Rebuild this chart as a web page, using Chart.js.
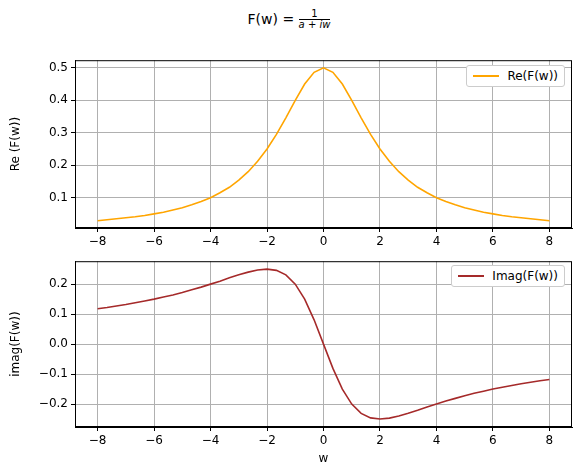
<!DOCTYPE html>
<html><head><meta charset="utf-8">
<script src="https://cdn.jsdelivr.net/npm/chart.js@4"></script>
<style>
body{margin:0;width:578px;height:470px;position:relative;background:#fff;font-family:"DejaVu Sans",sans-serif;}
canvas{position:absolute;left:0;}
#title{position:absolute;top:9px;left:0;width:578px;text-align:center;font-size:14px;}
.frac{display:inline-block;vertical-align:middle;text-align:center;font-size:10px;font-style:italic;line-height:10px;}
.frac span{display:block;}
.leg{position:absolute;border:1px solid #ccc;border-radius:3px;background:#fff;font-size:12px;padding:3px 6px;display:flex;align-items:center;}
.leg i{display:inline-block;width:26px;height:2px;margin-right:8px;}
</style></head><body>
<div id="title">F(w) = <span class="frac"><span style="border-bottom:1px solid #000;font-style:normal">1</span><span>a + iw</span></span></div>
<div style="position:absolute;top:50px;left:0;width:578px;height:205px"><canvas id="c1"></canvas></div>
<div style="position:absolute;top:251px;left:0;width:578px;height:219px"><canvas id="c2"></canvas></div>
<div class="leg" style="top:65px;right:13px"><i style="background:orange"></i>Re(F(w))</div>
<div class="leg" style="top:265px;right:13px"><i style="background:brown"></i>Imag(F(w))</div>
<script>
const w=[-8,-7.667,-7.333,-7,-6.667,-6.333,-6,-5.667,-5.333,-5,-4.667,-4.333,-4,-3.667,-3.333,-3,-2.667,-2.333,-2,-1.667,-1.333,-1,-0.667,-0.333,0,0.333,0.667,1,1.333,1.667,2,2.333,2.667,3,3.333,3.667,4,4.333,4.667,5,5.333,5.667,6,6.333,6.667,7,7.333,7.667,8];
const reHalf=[0.029,0.032,0.035,0.038,0.041,0.045,0.05,0.055,0.062,0.069,0.078,0.088,0.1,0.115,0.132,0.154,0.18,0.212,0.25,0.295,0.346,0.4,0.45,0.486];
const reVals=[...reHalf,0.5,...reHalf.slice().reverse()];
const imHalf=[0.118,0.122,0.127,0.132,0.138,0.144,0.15,0.157,0.164,0.172,0.181,0.19,0.2,0.21,0.221,0.231,0.24,0.247,0.25,0.246,0.231,0.2,0.15,0.081];
const imVals=[...imHalf,0,...imHalf.slice().reverse().map(v=>-v)];
const xTicks=[-8,-6,-4,-2,0,2,4,6,8];
const reTicks=[0.1,0.2,0.3,0.4,0.5];
const imTicks=[-0.2,-0.1,0,0.1,0.2];
Chart.defaults.font.family='"DejaVu Sans",sans-serif';
Chart.defaults.font.size=12;Chart.defaults.color='#000';
const frame={id:'frame',afterDraw(c){const a=c.chartArea,x=c.ctx;x.save();x.strokeStyle='#000';x.lineWidth=1;x.strokeRect(a.left+0.5,a.top+0.5,a.right-a.left-1,a.bottom-a.top-1);x.restore();}};
function mk(id,vals,color,ymin,ymax,yt,ytitle,xtitle,xh){
 new Chart(document.getElementById(id),{type:'scatter',plugins:[frame],
 data:{datasets:[{data:w.map((x,i)=>({x,y:vals[i]})),showLine:true,borderColor:color,borderWidth:1.6,pointRadius:0,fill:false}]},
 options:{animation:false,responsive:true,maintainAspectRatio:false,
 layout:{padding:{top:8,right:6,left:5,bottom:0}},
 plugins:{legend:{display:false},tooltip:{enabled:false}},
 scales:{
  x:{type:'linear',min:-8.8,max:8.8,afterBuildTicks:s=>{s.ticks=xTicks.map(v=>({value:v}))},
   grid:{color:'#b0b0b0',tickColor:'#000',tickLength:4},border:{color:'#000'},
   ticks:{padding:3,maxRotation:0,callback:v=>v<0?'\u2212'+(-v):v},
   title:{display:!!xtitle,text:xtitle,padding:{top:2}},afterFit:s=>{s.height=xh}},
  y:{min:ymin,max:ymax,afterBuildTicks:s=>{s.ticks=yt.map(v=>({value:v}))},
   ticks:{padding:3,callback:v=>v<0?'\u2212'+(-v).toFixed(1):v.toFixed(1)},
   grid:{color:'#b0b0b0',tickColor:'#000',tickLength:4},border:{color:'#000'},
   title:{display:true,text:ytitle,padding:{bottom:4}},afterFit:s=>{s.width=70}}}}});
}
mk('c1',reVals,'orange',0.0065,0.5235,reTicks,'Re (F(w))','',27);
mk('c2',imVals,'brown',-0.2765,0.2765,imTicks,'imag(F(w))','w',43);
</script></body></html>
